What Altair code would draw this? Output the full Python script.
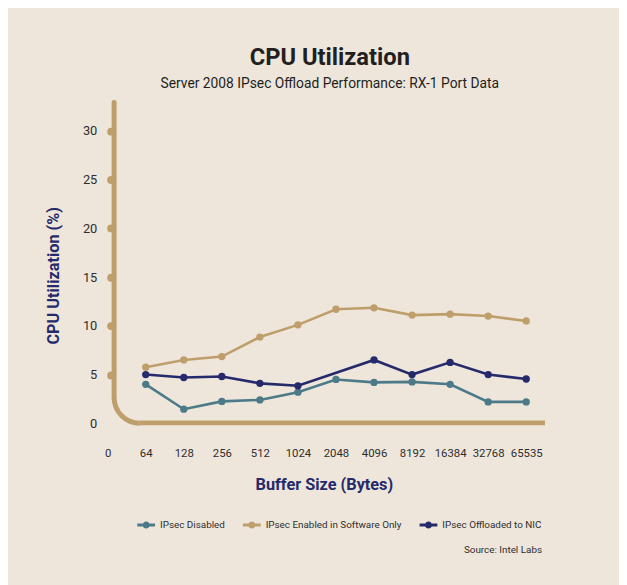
import math
import altair as alt
import pandas as pd

# ---- data ----
sizes = ["0", "64", "128", "256", "512", "1024", "2048", "4096", "8192", "16384", "32768", "65535"]
series_names = ["IPsec Disabled", "IPsec Enabled in Software Only", "IPsec Offloaded to NIC"]
disabled = [4.0, 1.45, 2.25, 2.4, 3.2, 4.5, 4.2, 4.25, 4.0, 2.2, 2.2]
software = [5.75, 6.5, 6.85, 8.85, 10.1, 11.7, 11.85, 11.1, 11.2, 11.0, 10.5]
offloaded = [5.0, 4.7, 4.8, 4.1, 3.85, None, 6.5, 5.0, 6.25, 5.0, 4.55]
y_ticks = [0, 5, 10, 15, 20, 25, 30]

# ---- styles ----
BG = "#EEE6DB"
TAN = "#BE9F6B"
NAVY = "#252A6B"
TEAL = "#4C7A89"
TXT = "#2E2E2E"
colors = [TEAL, TAN, NAVY]
FONT = "Roboto, Liberation Sans, sans-serif"

rows = []
for name, vals in [(series_names[1], software), (series_names[0], disabled), (series_names[2], offloaded)]:
    for s, v in zip(sizes[1:], vals):
        if v is not None:
            rows.append({"size": s, "series": name, "cpu": v})
df = pd.DataFrame(rows)

W, H = 424, 326

x_enc = alt.X(
    "size:O",
    scale=alt.Scale(type="point", domain=sizes, padding=0),
    axis=alt.Axis(
        title="Buffer Size (Bytes)", domain=False, ticks=False, labelAngle=0,
        labelPadding=25, labelFont=FONT, labelFontSize=11.5, labelColor=TXT,
        labelOverlap=False, labelBound=False,
        titleFont=FONT, titleFontSize=16.5, titleFontWeight="bold", titleColor=NAVY,
        titleX=219, titleY=67, titleBaseline="alphabetic", titleAlign="center",
        grid=False,
    ),
)
y_enc = alt.Y(
    "cpu:Q",
    scale=alt.Scale(domain=[0, 33], nice=False, zero=True),
    axis=alt.Axis(
        title="CPU Utilization (%)", values=y_ticks, domain=False, offset=-4,
        tickSize=1, tickWidth=8, tickCap="round", tickColor=TAN,
        tickOpacity={"condition": {"test": "datum.value === 0", "value": 0}, "value": 1},
        labelPadding=14, labelFont=FONT, labelFontSize=13, labelColor=TXT,
        titleFont=FONT, titleFontSize=16.5, titleFontWeight="bold", titleColor=NAVY,
        titleX=-59, titleY=176, titleAngle=270, titleAlign="center", titleBaseline="middle",
        grid=False,
    ),
)
legend_path = ("M-1,-0.16L1,-0.16L1,0.16L-1,0.16Z "
               "M0.4,0A0.4,0.4,0,1,1,-0.4,0A0.4,0.4,0,1,1,0.4,0Z")
legend = alt.Legend(
    orient="none", legendX=30, legendY=420, direction="horizontal", title=None,
    symbolType=legend_path, symbolSize=324, symbolStrokeWidth=0, symbolOpacity=1,
    labelFont=FONT, labelFontSize=10, labelColor=TXT, labelOffset=5,
    columnPadding=18,
)

base = alt.Chart(df).encode(x=x_enc, y=y_enc)

# one line per series (software first so it sits underneath)
line_layers = []
for idx in [1, 0, 2]:
    line_layers.append(
        base.transform_filter(alt.datum.series == series_names[idx])
        .mark_line(color=colors[idx], strokeWidth=2.6)
    )
points = base.mark_point(filled=True, size=55, opacity=1).encode(
    color=alt.Color("series:N", scale=alt.Scale(domain=series_names, range=colors), legend=legend)
)

deco = alt.Chart(pd.DataFrame({"k": [0]}))
vline = deco.mark_rule(color=TAN, strokeWidth=5, strokeCap="round").encode(
    x=alt.value(6.5), y=alt.value(1), y2=alt.value(300)
)
hline = deco.mark_rule(color=TAN, strokeWidth=5).encode(
    x=alt.value(32.5), x2=alt.value(443), y=alt.value(325.5)
)
corner = deco.mark_arc(color=TAN).encode(
    x=alt.value(32.5), y=alt.value(300),
    theta=alt.value(math.pi), theta2=alt.value(1.5 * math.pi),
    radius=alt.value(28.5), radius2=alt.value(23.5),
)
title = deco.mark_text(
    text="CPU Utilization", font=FONT, fontSize=24, fontWeight="bold",
    color="#231F20", align="center", baseline="alphabetic",
).encode(x=alt.value(225), y=alt.value(-37))
subtitle = deco.mark_text(
    text="Server 2008 IPsec Offload Performance: RX-1 Port Data", font=FONT, fontSize=14,
    color="#231F20", align="center", baseline="alphabetic",
).encode(x=alt.value(225), y=alt.value(-14))
source = deco.mark_text(
    text="Source: Intel Labs", font=FONT, fontSize=10,
    color=TXT, align="right", baseline="alphabetic",
).encode(x=alt.value(440), y=alt.value(457))

chart = alt.layer(vline, hline, corner, *line_layers, points, title, subtitle, source).properties(
    width=W, height=H,
    padding={"left": 101, "top": 91, "right": 94, "bottom": 160},
    autosize=alt.AutoSizeParams(type="none"),
    background=BG,
).configure_view(stroke=None)

chart.save("out.html", embed_options={"renderer": "svg", "actions": False})
